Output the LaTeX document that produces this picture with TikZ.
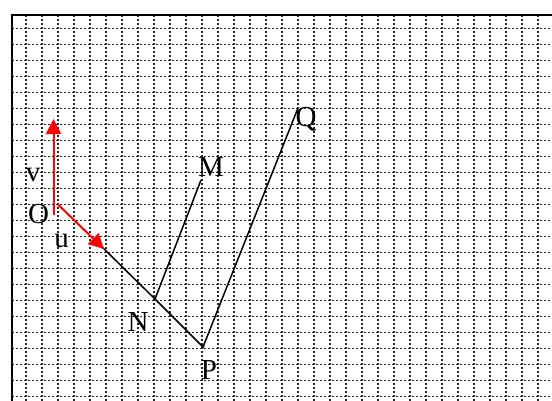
\documentclass[tikz,border=0pt]{standalone}
\usepackage{fontspec}
\setmainfont{Liberation Serif}
\usetikzlibrary{arrows.meta}
\tikzset{
  gridline/.style={black!85, line width=1.2pt, dash pattern=on 2.2pt off 1.8pt},
  framestyle/.style={black, line width=2pt},
  redvec/.style={red, line width=2pt, -{Triangle[length=15pt,width=15pt]}},
  seg/.style={black, line width=1.5pt},
  lbl/.style={anchor=base, inner sep=0pt, font=\fontsize{29}{29}\selectfont}
}
\begin{document}
\begin{tikzpicture}[x=1pt,y=-1pt]
\useasboundingbox (0,0) rectangle (552,400);
\begin{scope}
\clip (0,0) rectangle (552,400);
% grid
\foreach \k in {0,...,32} {\draw[gridline] ({26+16*\k},15) -- ({26+16*\k},402);}
\foreach \k in {0,...,23} {\draw[gridline] (12,{28.3+16*\k}) -- (554,{28.3+16*\k});}
% frame
\draw[framestyle] (12,410) -- (12,15) -- (560,15);
\end{scope}
% points
\coordinate (Ov) at (53.5,215);
\coordinate (Vt) at (53.5,119);
\coordinate (Ou) at (57.5,204);
\coordinate (Ut) at (104,249);
\coordinate (Us) at (98,243);
\coordinate (N) at (155,299);
\coordinate (P) at (203,347);
\coordinate (M) at (201,180);
\coordinate (Q) at (298,108);
% segments
\draw[seg] (Us) -- (N);
\draw[seg] (N) -- (P);
\draw[seg] (N) -- (M);
\draw[seg, line join=miter] (P) -- (Q);
\fill (P) circle (1.6pt);
% red vectors
\draw[redvec] (Ov) -- (Vt);
\draw[redvec] (Ou) -- (Ut);
% labels
\node[lbl] (lv) at (33,181.5) {v};
\node[lbl] (lO) at (38.5,223) {O};
\node[lbl] (lu) at (61.5,247.5) {u};
\node[lbl] (lM) at (211,176) {M};
\node[lbl] (lN) at (138,331) {N};
\node[lbl] (lP) at (209,379) {P};
\node[lbl] (lQ) at (306,126) {Q};
\end{tikzpicture}
\end{document}
